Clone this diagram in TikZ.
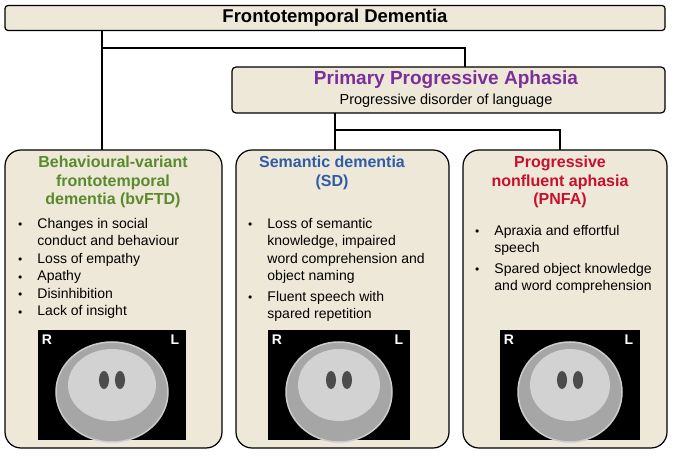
\documentclass[tikz,border=0pt]{standalone}
\usepackage{fontspec}
\setmainfont{Liberation Sans}
\begin{document}
\begin{tikzpicture}[x=1pt,y=-1pt,
 box/.style={draw=black,line width=1.2pt,fill=beige},
 ttl/.style={font=\bfseries\fontsize{16}{18.5}\selectfont,align=center},
 bl/.style={align=left,font=\fontsize{14}{17.5}\selectfont,anchor=north west,inner sep=0pt},
 mri/.style={fill=black},
 head/.style={fill=gray!70,draw=gray!40,line width=1.5pt},
 rl/.style={text=white,font=\bfseries\fontsize{14}{16}\selectfont},
 ln/.style={line width=1.5pt}]
\definecolor{beige}{HTML}{EEE8D8}
\definecolor{cg}{HTML}{5A8A2C}
\definecolor{cp}{HTML}{7B2F9B}
\definecolor{cb}{HTML}{2F5CA8}
\definecolor{cr}{HTML}{C8102E}
\newcommand{\bu}{{\fontsize{8}{10}\selectfont\raisebox{1.5pt}{$\bullet$}}}
\useasboundingbox (0,0) rectangle (673,457);
% connectors
\coordinate (t1) at (102,30); \coordinate (t2) at (102,48); \coordinate (t3) at (465,48);
\coordinate (p1) at (335,113); \coordinate (p2) at (335,130); \coordinate (p3) at (560,130);
\draw[ln] (t1) -- (t2) -- (102,150);
\draw[ln] (t2) -- (t3) -- (465,67);
\draw[ln] (p1) -- (p2) -- (335,150);
\draw[ln] (p2) -- (p3) -- (560,150);
\node[box,rounded corners=3pt,minimum width=660pt,minimum height=25pt,font=\bfseries\fontsize{18.5}{20}\selectfont] (top) at (335,18) {Frontotemporal Dementia};
\node[box,rounded corners=4pt,minimum width=433pt,minimum height=46pt] (ppa) at (448.5,90) {};
\node[font=\bfseries\fontsize{19}{21}\selectfont,text=cp] (ppat) at (446,80) {Primary Progressive Aphasia};
\node[font=\fontsize{14.5}{17}\selectfont] (ppas) at (446,101) {Progressive disorder of language};
\node[box,rounded corners=16pt,minimum width=217pt,minimum height=298pt] (b1) at (113.5,299) {};
\node[box,rounded corners=16pt,minimum width=213pt,minimum height=298pt] (b2) at (342.5,299) {};
\node[box,rounded corners=16pt,minimum width=204pt,minimum height=298pt] (b3) at (565,299) {};
\node[ttl,text=cg] (h1) at (113,182) {Behavioural-variant\\frontotemporal\\dementia (bvFTD)};
\node[ttl,text=cb] (h2) at (332,173) {Semantic dementia\\(SD)};
\node[ttl,text=cr] (h3) at (560,182) {Progressive\\nonfluent aphasia\\(PNFA)};
\node[bl] (l1) at (18,216) {\begin{tabular}{@{}l@{\hspace{15pt}}l@{}}
\bu & Changes in social\\ & conduct and behaviour\\
\bu & Loss of empathy\\ \bu & Apathy\\ \bu & Disinhibition\\ \bu & Lack of insight\end{tabular}};
\node[bl] (l2) at (248,216) {\begin{tabular}{@{}l@{\hspace{15pt}}l@{}}
\bu & Loss of semantic\\ & knowledge, impaired\\ & word comprehension and\\ & object naming\\[3pt]
\bu & Fluent speech with\\ & spared repetition\end{tabular}};
\node[bl] (l3) at (475,223) {\begin{tabular}{@{}l@{\hspace{15pt}}l@{}}
\bu & Apraxia and effortful\\ & speech\\[3pt]
\bu & Spared object knowledge\\ & and word comprehension\end{tabular}};
% MRI placeholders
\foreach \n/\xa/\xb in {m1/38/186,m2/268/410,m3/500/640}{
 \fill[mri] (\xa,330) rectangle (\xb,440);
 \fill[head] ({(\xa+\xb)/2},392) ellipse ({(\xb-\xa)/2-18} and 50);
 \fill[gray!35] ({(\xa+\xb)/2},385) ellipse ({(\xb-\xa)/2-30} and 36);
 \fill[black!70] ({(\xa+\xb)/2-8},380) ellipse (5 and 9);
 \fill[black!70] ({(\xa+\xb)/2+8},380) ellipse (5 and 9);
 \node[rl] at (\xa+9,340) {R};
 \node[rl] at (\xb-11,340) {L};
}
\end{tikzpicture}
\end{document}
